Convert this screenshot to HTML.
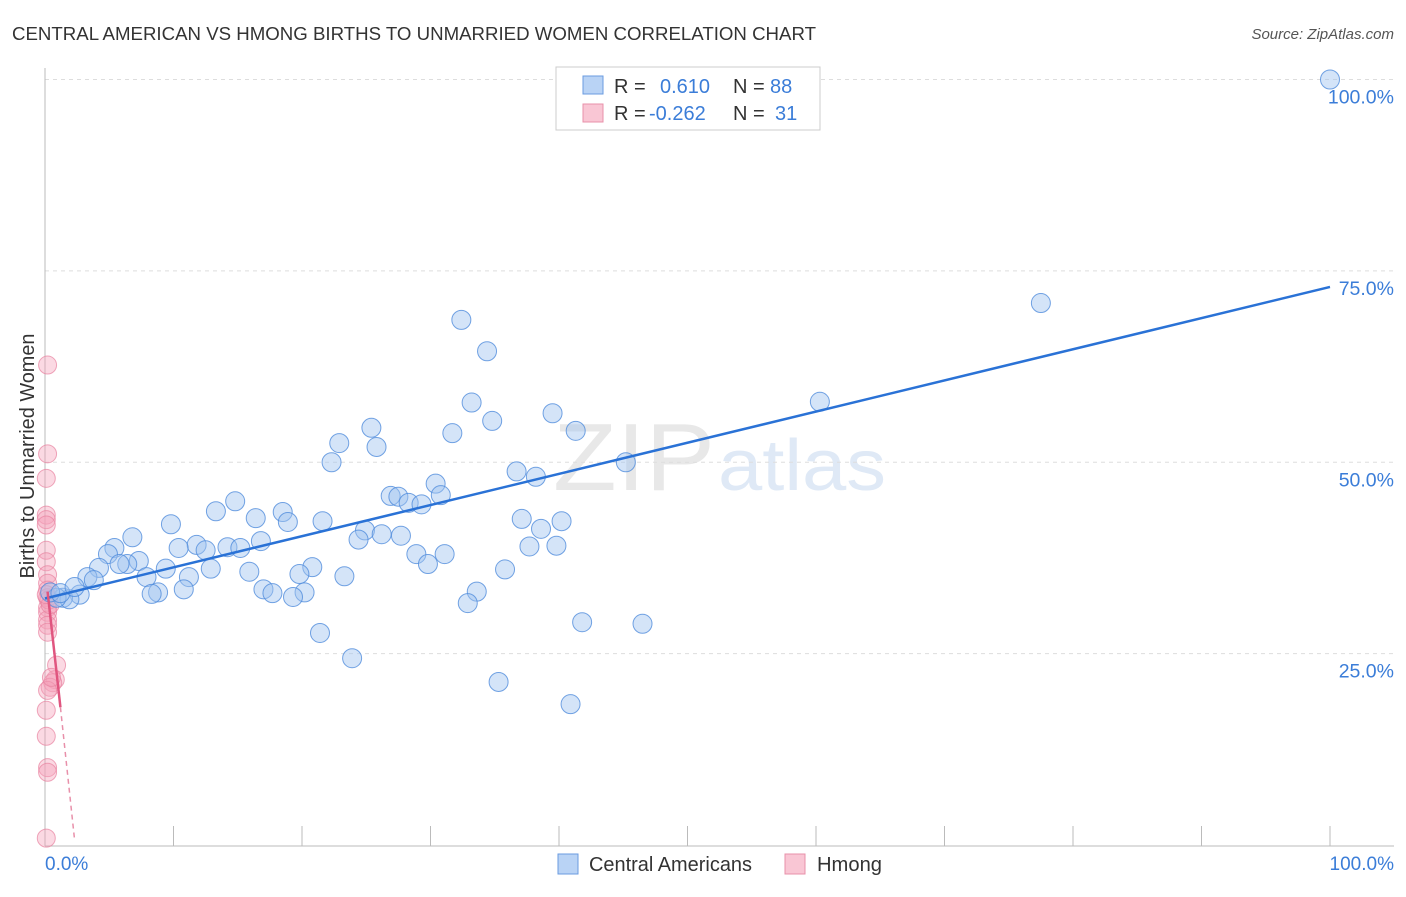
<!DOCTYPE html>
<html><head><meta charset="utf-8"><style>
body{margin:0;background:#fff;font-family:"Liberation Sans",sans-serif}
svg text{font-family:"Liberation Sans",sans-serif}
</style></head><body>
<svg width="1406" height="892">
<text x="12" y="40" font-size="18" fill="#333" textLength="804" lengthAdjust="spacingAndGlyphs">CENTRAL AMERICAN VS HMONG BIRTHS TO UNMARRIED WOMEN CORRELATION CHART</text>
<text x="1394" y="39" font-size="15" fill="#555" text-anchor="end" font-style="italic">Source: ZipAtlas.com</text>
<text x="553" y="490" font-size="96" fill="#e8e8e8" font-family="Liberation Serif" textLength="162" lengthAdjust="spacingAndGlyphs">ZIP</text>
<text x="718" y="490" font-size="72" fill="#dfe9f6" textLength="168" lengthAdjust="spacingAndGlyphs">atlas</text>
<g id="grid"></g>
<line x1="45" y1="68" x2="45" y2="846" stroke="#bbb"/>
<line x1="45" y1="846" x2="1394" y2="846" stroke="#bbb"/>
<text x="0" y="0" font-size="20" fill="#333" text-anchor="middle" textLength="245" lengthAdjust="spacingAndGlyphs" transform="translate(34,456) rotate(-90)">Births to Unmarried Women</text>
<text x="45" y="870" font-size="19" fill="#3b7dd8">0.0%</text>
<text x="1394" y="870" font-size="19" fill="#3b7dd8" text-anchor="end">100.0%</text>
<g id="marks"></g>
<rect x="556" y="67" width="264" height="63" fill="#fff" stroke="#ccc"/>
<rect x="583" y="76" width="20" height="18" fill="#b9d3f5" stroke="#6a9be0"/>
<rect x="583" y="104" width="20" height="18" fill="#f9c6d4" stroke="#e890aa"/>
<text x="614" y="93" font-size="20" fill="#333">R =</text>
<text x="660" y="93" font-size="20" fill="#3b7dd8">0.610</text>
<text x="733" y="93" font-size="20" fill="#333">N =</text>
<text x="770" y="93" font-size="20" fill="#3b7dd8">88</text>
<text x="614" y="120" font-size="20" fill="#333">R =</text>
<text x="649" y="120" font-size="20" fill="#3b7dd8">-0.262</text>
<text x="733" y="120" font-size="20" fill="#333">N =</text>
<text x="775" y="120" font-size="20" fill="#3b7dd8">31</text>
<rect x="558" y="854" width="20" height="20" fill="#b9d3f5" stroke="#6a9be0"/>
<text x="589" y="871" font-size="20" fill="#333" textLength="163" lengthAdjust="spacingAndGlyphs">Central Americans</text>
<rect x="785" y="854" width="20" height="20" fill="#f9c6d4" stroke="#e890aa"/>
<text x="817" y="871" font-size="20" fill="#333" textLength="65" lengthAdjust="spacingAndGlyphs">Hmong</text>
</svg>
<script>
const yTicks=[25,50,75,100];
const yTickLabels=["25.0%","50.0%","75.0%","100.0%"];
const xTickVals=[10,20,30,40,50,60,70,80,90,100];
const blueX=[100,77.5,32.4,34.4,60.3,33.2,39.5,34.8,25.4,41.3,31.7,22.9,25.8,45.2,22.3,36.7,38.2,30.4,26.9,27.5,30.8,28.3,29.3,14.8,13.3,18.5,16.4,18.9,9.8,21.6,37.1,40.2,38.6,6.8,24.9,26.2,24.4,27.7,16.8,11.8,12.5,10.4,14.2,15.2,5.4,37.7,39.8,4.9,7.3,28.9,31.1,6.4,5.8,9.4,29.8,12.9,15.9,20.8,19.8,35.8,23.3,4.2,7.9,11.2,3.3,3.8,17.0,10.8,8.8,8.3,17.7,20.2,33.6,2.7,1.4,1.9,0.9,19.3,32.9,41.8,46.5,21.4,23.9,35.3,40.9,0.4,1.2,2.3];
const blueY=[100,70.8,68.6,64.5,57.9,57.8,56.4,55.4,54.5,54.1,53.8,52.5,52.0,50.0,50.0,48.8,48.1,47.2,45.6,45.5,45.7,44.7,44.5,44.9,43.6,43.5,42.7,42.2,41.9,42.3,42.6,42.3,41.3,40.2,41.1,40.6,39.9,40.4,39.7,39.2,38.5,38.8,38.9,38.8,38.8,39.0,39.1,38.0,37.1,38.0,38.0,36.7,36.7,36.1,36.7,36.1,35.7,36.3,35.4,36.0,35.1,36.2,35.0,35.0,35.0,34.6,33.4,33.4,33.0,32.8,32.9,33.0,33.1,32.7,32.3,32.1,32.3,32.4,31.6,29.1,28.9,27.7,24.4,21.3,18.4,33.0,32.9,33.7];
const pinkX=[0.2,0.2,0.1,0.1,0.1,0.1,0.1,0.1,0.2,0.2,0.2,0.2,0.2,0.2,0.2,0.2,0.2,0.9,0.8,0.6,0.4,0.2,0.1,0.1,0.2,0.2,0.1,0.5,0.3,0.4,0.1];
const pinkY=[62.7,51.1,47.9,43.1,42.5,41.8,38.5,37.0,35.3,34.2,33.3,32.3,31.0,30.4,29.4,28.7,27.8,23.5,21.6,21.2,20.6,20.2,17.6,14.2,10.1,9.5,0.9,21.9,32.0,31.4,32.7];
const blueLine=[[0,32.2],[100,72.9]];
const pinkLine=[[0.2,33.1],[1.2,18.0]];
const pinkDash=[[1.2,18.0],[2.3,0.7]];
const X=v=>45+v*12.85, Y=v=>845-v*7.655;
const NS="http://www.w3.org/2000/svg";
const grid=document.getElementById('grid'), marks=document.getElementById('marks');
function mk(tag,attrs,parent){const e=document.createElementNS(NS,tag);for(const k in attrs)e.setAttribute(k,attrs[k]);parent.appendChild(e);return e;}
yTicks.forEach((t,i)=>{
 const l=mk('line',{x1:45,x2:1394,y1:Y(t),y2:Y(t),stroke:'#ddd','stroke-dasharray':'4,4'},grid);
 
 
 const tx=mk('text',{x:1394,y:Y(t)+24,'font-size':19.5,fill:'#3b7dd8','text-anchor':'end'},grid);
 tx.textContent=yTickLabels[i];
 
 
});
xTickVals.forEach(t=>{
 const l=mk('line',{x1:X(t),x2:X(t),y1:826,y2:846,stroke:'#bbb'},grid);
 
 
});
pinkX.forEach((v,i)=>{
 const c=mk('circle',{cx:X(v),cy:Y(pinkY[i]),r:9,fill:'rgba(244,160,185,0.4)',stroke:'rgba(232,130,160,0.7)'},marks);
 
 
});
blueX.forEach((v,i)=>{
 const c=mk('circle',{cx:X(v),cy:Y(blueY[i]),r:9.5,fill:'rgba(160,196,240,0.45)',stroke:'rgba(80,140,220,0.8)'},marks);
 
 
});
const bl=mk('line',{x1:X(blueLine[0][0]),y1:Y(blueLine[0][1]),x2:X(blueLine[1][0]),y2:Y(blueLine[1][1]),stroke:'#2a72d6','stroke-width':2.5},marks);


const pl=mk('line',{x1:X(pinkLine[0][0]),y1:Y(pinkLine[0][1]),x2:X(pinkLine[1][0]),y2:Y(pinkLine[1][1]),stroke:'#e0557f','stroke-width':2.5},marks);


const pd=mk('line',{x1:X(pinkDash[0][0]),y1:Y(pinkDash[0][1]),x2:X(pinkDash[1][0]),y2:Y(pinkDash[1][1]),stroke:'#e890aa','stroke-width':1.5,'stroke-dasharray':'5,4'},marks);


</script>
</body></html>
